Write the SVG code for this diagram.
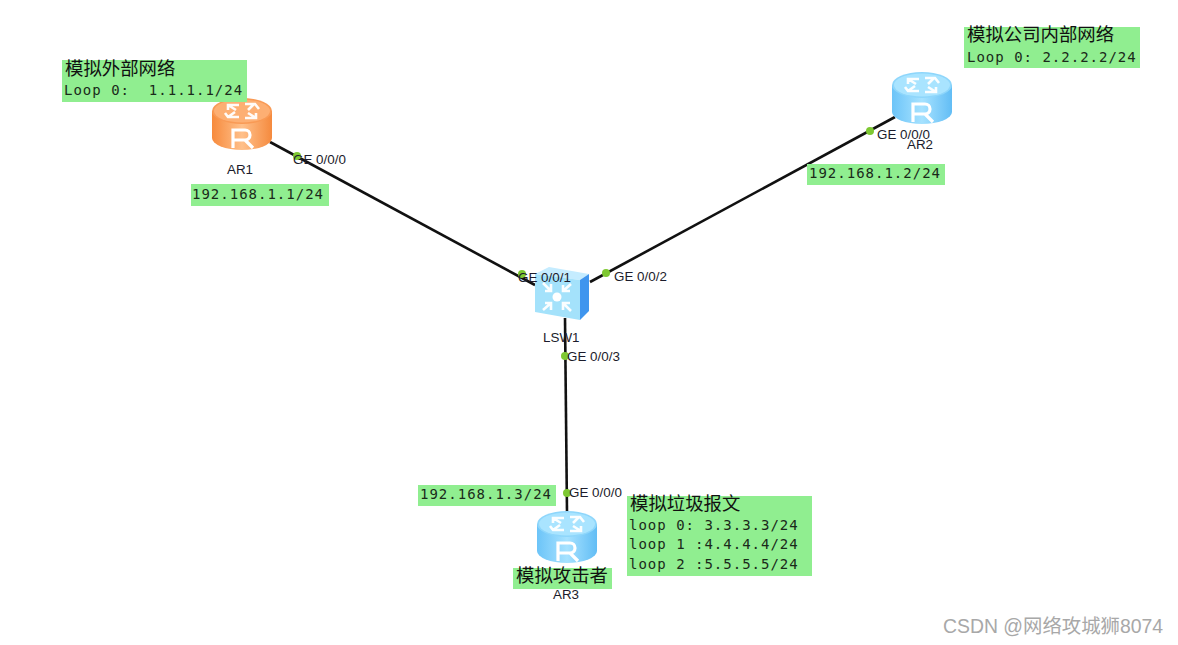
<svg xmlns="http://www.w3.org/2000/svg" width="1178" height="645" viewBox="0 0 1178 645">
<style>
.box{fill:#90ee90}
.cn{font-family:"Noto Sans CJK SC","Noto Sans CJK JP",sans-serif;font-size:18.4px;fill:#111}
.mono{font-family:"DejaVu Sans Mono","Liberation Mono",monospace;font-size:14px;letter-spacing:1px;fill:#1a2a1a;white-space:pre}
.lbl{font-family:"Liberation Sans",Arial,sans-serif;font-size:13.4px;fill:#1c1c2c}
.link{stroke:#111;stroke-width:2.6;fill:none}
.port{fill:#7ec832}
.wm{font-family:"Liberation Sans","Noto Sans CJK SC",sans-serif;font-size:19.4px;fill:#a8a8a8}
.arr{fill:none;stroke:#fff;stroke-width:2.6;opacity:.95}
.r{fill:none;stroke:#fff;stroke-width:3.2}
</style>
<defs>
<linearGradient id="blue" x1="0" x2="1" y1="0" y2="0"><stop offset="0" stop-color="#6cc4f8"/><stop offset=".5" stop-color="#a6e2ff"/><stop offset="1" stop-color="#62bdf5"/></linearGradient>
<linearGradient id="orange" x1="0" x2="1" y1="0" y2="0"><stop offset="0" stop-color="#f78a3c"/><stop offset=".5" stop-color="#ffc08a"/><stop offset="1" stop-color="#f58a3e"/></linearGradient>
<g id="deco">
<path class="arr" d="M-3 -20H-14V-15M-14 -20L-6 -15M3 -21H13L17 -16M12 -21L6 -15M-3 -8H-14L-17 -12M-14 -8L-7 -13M3 -7H14V-12M14 -7L6 -12"/>
</g>
<g id="rB">
<path d="M-30 -14V13A30 12 0 0 0 30 13V-14Z" fill="url(#blue)"/>
<ellipse cx="0" cy="-14" rx="30" ry="13" fill="#8ed6fb"/>
<ellipse cx="0" cy="-14" rx="28" ry="11.500" fill="#a9e4ff"/>
<use href="#deco"/>
<path class="r" d="M-9 23V5H3A5 5 0 0 1 3 15H-9M3 15L11 23"/>
</g>
<g id="rO">
<path d="M-30 -14V13A30 12 0 0 0 30 13V-14Z" fill="url(#orange)"/>
<ellipse cx="0" cy="-14" rx="30" ry="13" fill="#f99a55"/>
<ellipse cx="0" cy="-14" rx="28" ry="11.500" fill="#fdaf73"/>
<use href="#deco"/>
<path class="r" d="M-9 23V5H3A5 5 0 0 1 3 15H-9M3 15L11 23"/>
</g>
</defs>
<rect width="1178" height="645" fill="#fff"/>
<g id="connectors">
<line class="link" x1="270" y1="142" x2="535" y2="285"/>
<line class="link" x1="895" y1="117" x2="590" y2="282"/>
<line class="link" x1="565" y1="318" x2="567" y2="512"/>
</g>
<g id="AR1">
<use href="#rO" x="242" y="125"/>
<text class="lbl" x="227" y="174">AR1</text>
<rect class="box" x="62" y="60" width="185" height="42"/>
<text class="cn" x="65" y="75">模拟外部网络</text>
<text class="mono" x="64" y="95">Loop 0:  1.1.1.1/24</text>
<rect class="box" x="191" y="184" width="138" height="22"/>
<text class="mono" x="192" y="199">192.168.1.1/24</text>
<circle class="port" cx="297" cy="156" r="4"/>
<text class="lbl" x="293" y="164">GE 0/0/0</text>
</g>
<g id="AR2">
<use href="#rB" x="922" y="99"/>
<text class="lbl" x="907" y="149">AR2</text>
<rect class="box" x="964" y="27" width="176" height="41"/>
<text class="cn" x="967" y="41">模拟公司内部网络</text>
<text class="mono" x="967" y="62">Loop 0: 2.2.2.2/24</text>
<rect class="box" x="807" y="164" width="138" height="21"/>
<text class="mono" x="809" y="178">192.168.1.2/24</text>
<circle class="port" cx="870" cy="131" r="4"/>
<text class="lbl" x="877" y="139">GE 0/0/0</text>
</g>
<g id="LSW1">
<path d="M535 274L549 267L589 274L580 280Z" fill="#c5ecff"/>
<path d="M580 280L589 274V311L580 320Z" fill="#3f95ee"/>
<path d="M535 274L580 280V320L535 312Z" fill="#a4e2fb"/>
<circle cx="557" cy="297" r="4.500" fill="#fff"/>
<path class="arr" d="M551 291L543 283M545 291H551V284M563 291L571 284M563 285V291H570M551 303L543 310M545 303H551V310M563 303L571 311M563 310V303H570"/>
<text class="lbl" x="543" y="342">LSW1</text>
<circle class="port" cx="522" cy="274" r="4"/>
<text class="lbl" x="518" y="282">GE 0/0/1</text>
<circle class="port" cx="606" cy="273" r="4"/>
<text class="lbl" x="614" y="281">GE 0/0/2</text>
<circle class="port" cx="565" cy="356" r="4"/>
<text class="lbl" x="567" y="361">GE 0/0/3</text>
</g>
<g id="AR3">
<use href="#rB" x="567" y="538"/>
<rect class="box" x="513" y="568" width="99" height="21"/>
<text class="cn" x="516" y="582">模拟攻击者</text>
<text class="lbl" x="553" y="599">AR3</text>
<rect class="box" x="418" y="485" width="138" height="21"/>
<text class="mono" x="420" y="499">192.168.1.3/24</text>
<circle class="port" cx="567" cy="493" r="4"/>
<text class="lbl" x="569" y="497">GE 0/0/0</text>
<rect class="box" x="627" y="496" width="185" height="80"/>
<text class="cn" x="630" y="510">模拟垃圾报文</text>
<text class="mono" x="629" y="530">loop 0: 3.3.3.3/24</text>
<text class="mono" x="629" y="549">loop 1 :4.4.4.4/24</text>
<text class="mono" x="629" y="569">loop 2 :5.5.5.5/24</text>
</g>
<text class="wm" x="943" y="633">CSDN @网络攻城狮8074</text>
</svg>
